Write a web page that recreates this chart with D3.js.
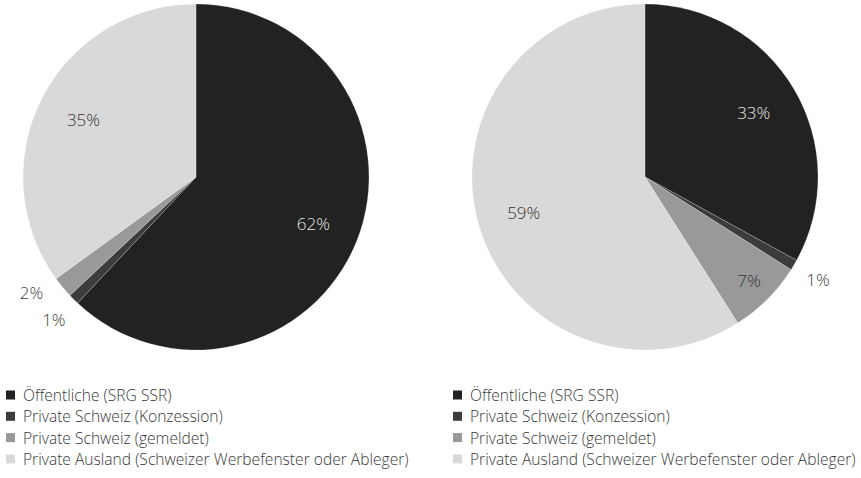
<!DOCTYPE html>
<html>
<head>
<meta charset="utf-8">
<script src="https://cdn.jsdelivr.net/npm/d3@7"></script>
<style>
  html, body { margin: 0; padding: 0; background: #fff; }
  svg { display: block; font-family: "Open Sans", "Noto Sans", sans-serif; font-weight: 300; }
</style>
</head>
<body>
<svg id="chart" width="861" height="478"></svg>
<script>
// Categories shared by both pies
const categories = [
  "Öffentliche (SRG SSR)",
  "Private Schweiz (Konzession)",
  "Private Schweiz (gemeldet)",
  "Private Ausland (Schweizer Werbefenster oder Ableger)"
];
// Shares in percent
const valuesLeft = [62, 1, 2, 35];
const valuesRight = [33, 1, 7, 59];

const colors = ["#222222", "#3c3c3c", "#999999", "#d9d9d9"];
const labelColors = ["#e6e6e6", "#e6e6e6", "#333333", "#333333"];

const svg = d3.select("#chart");
const radius = 173;

function drawPie(values, cx, cy, legendX) {
  const g = svg.append("g").attr("transform", `translate(${cx},${cy})`);
  const pie = d3.pie().sort(null).value(d => d);
  const arcs = pie(values);
  const arc = d3.arc().innerRadius(0).outerRadius(radius);

  g.selectAll("path.slice")
    .data(arcs)
    .join("path")
    .attr("class", "slice")
    .attr("d", arc)
    .attr("fill", (d, i) => colors[i])
    .attr("stroke", "rgba(255,255,255,0.35)")
    .attr("stroke-width", 0.6);

  // Labels: large slices inside, medium slices near the rim, tiny slices outside
  g.selectAll("text.lbl")
    .data(arcs)
    .join("text")
    .attr("class", "lbl")
    .each(function (d, i) {
      const a = (d.startAngle + d.endAngle) / 2;
      let r, fill;
      if (d.value >= 20) { r = radius * 0.73; fill = labelColors[i]; }
      else if (d.value >= 5) { r = radius * 0.85; fill = labelColors[i]; }
      else { r = radius + 28; fill = "#404040"; }
      let ang = a;
      if (d.value < 5 && d.index > 0 && values[d.index - 1] < 5) ang += 0.08;
      d3.select(this)
        .attr("x", Math.sin(ang) * r)
        .attr("y", -Math.cos(ang) * r)
        .attr("fill", fill);
    })
    .attr("text-anchor", "middle")
    .attr("dominant-baseline", "central")
    .attr("font-size", 17)
    .text(d => d.value + "%");

  // Legend
  const lg = svg.append("g").attr("transform", `translate(${legendX},395)`);
  const rows = lg.selectAll("g")
    .data(categories)
    .join("g")
    .attr("transform", (d, i) => `translate(0,${i * 21.3})`);
  rows.append("rect")
    .attr("x", 0).attr("y", -4.5)
    .attr("width", 9).attr("height", 9)
    .attr("fill", (d, i) => colors[i]);
  rows.append("text")
    .attr("x", 17)
    .attr("y", 0)
    .attr("dominant-baseline", "central")
    .attr("font-size", 15.6)
    .attr("fill", "#383838")
    .text(d => d);
}

drawPie(valuesLeft, 196, 177, 6);
drawPie(valuesRight, 645, 177, 453);
</script>
</body>
</html>
